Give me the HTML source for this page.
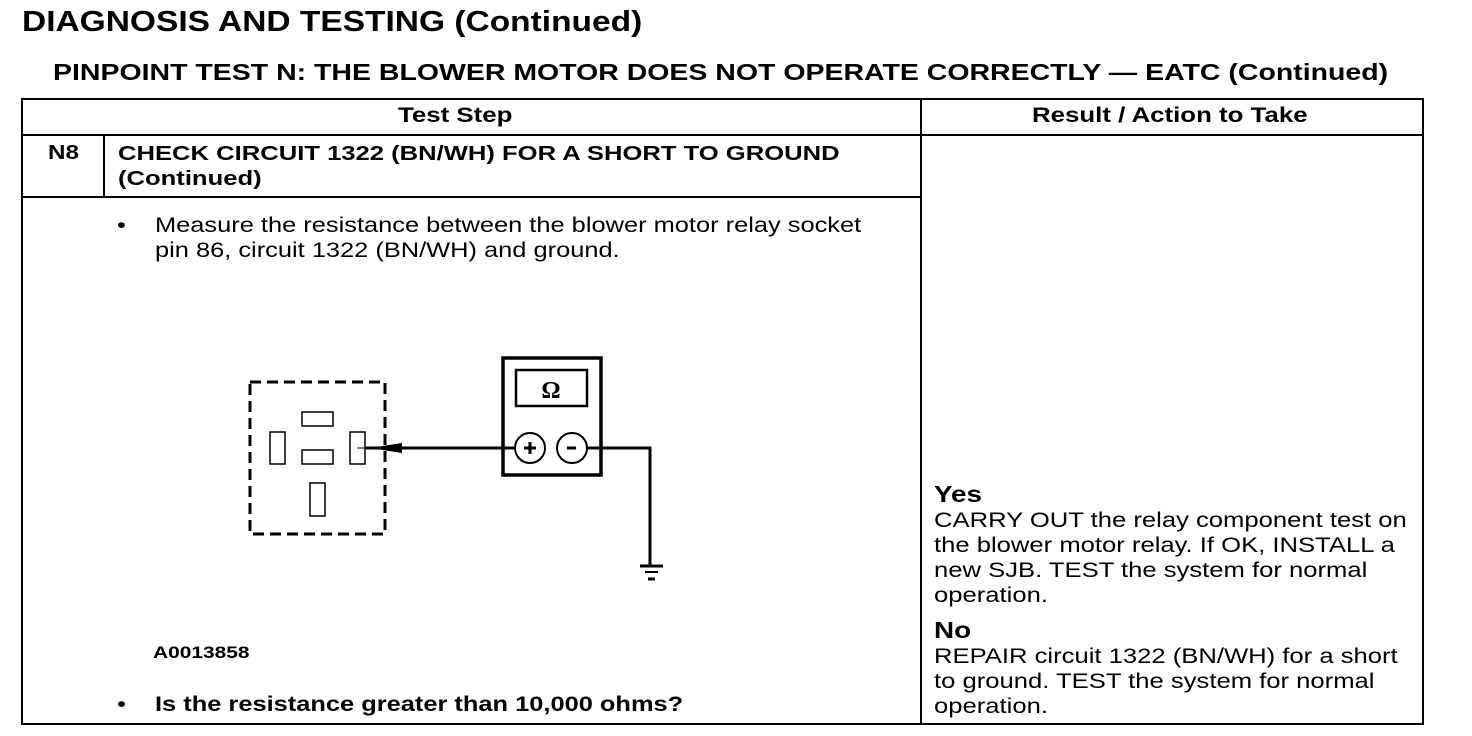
<!DOCTYPE html>
<html><head><style>
body{margin:0;width:1472px;height:736px;background:#fff;position:relative;font-family:"Liberation Sans",Arial,sans-serif;color:#000;overflow:hidden}
.t{position:absolute;white-space:nowrap;transform-origin:0 0;transform:scaleX(1.21)}
.b{font-weight:bold}
.l{position:absolute;background:#000}
</style></head><body>
<div class="t b" style="left:22px;top:6px;font-size:29px;transform:scaleX(1.155)">DIAGNOSIS AND TESTING (Continued)</div>
<div class="t b" style="left:53px;top:59px;font-size:23px;transform:scaleX(1.238)">PINPOINT TEST N: THE BLOWER MOTOR DOES NOT OPERATE CORRECTLY — EATC (Continued)</div>
<div style="position:absolute;left:21px;top:98px;width:1399px;height:623px;border:2px solid #000"></div>
<div class="l" style="left:21px;top:134px;width:1401px;height:2px"></div>
<div class="l" style="left:920px;top:98px;width:2px;height:625px"></div>
<div class="l" style="left:103px;top:134px;width:2px;height:63px"></div>
<div class="l" style="left:21px;top:196px;width:900px;height:2px"></div>
<div class="t b" style="left:398px;top:104px;font-size:21px;transform:scaleX(1.23)">Test Step</div>
<div class="t b" style="left:1032px;top:104px;font-size:21px;transform:scaleX(1.23)">Result / Action to Take</div>
<div class="t b" style="left:48px;top:142px;font-size:20px">N8</div>
<div class="t b" style="left:118px;top:142px;font-size:20px;line-height:25px;transform:scaleX(1.28)">CHECK CIRCUIT 1322 (BN/WH) FOR A SHORT TO GROUND<br>(Continued)</div>
<div class="t" style="left:117px;top:213px;font-size:21px;line-height:25px">•</div>
<div class="t" style="left:155px;top:213px;font-size:21px;line-height:25px">Measure the resistance between the blower motor relay socket<br>pin 86, circuit 1322 (BN/WH) and ground.</div>
<div class="t b" style="left:153px;top:643px;font-size:17px;transform:scaleX(1.23)">A0013858</div>
<div class="t" style="left:117px;top:693px;font-size:21px">•</div>
<div class="t b" style="left:155px;top:693px;font-size:21px">Is the resistance greater than 10,000 ohms?</div>
<div class="t b" style="left:934px;top:481px;font-size:23px">Yes</div>
<div class="t" style="left:934px;top:508px;font-size:21px;line-height:25px;transform:scaleX(1.22)">CARRY OUT the relay component test on<br>the blower motor relay. If OK, INSTALL a<br>new SJB. TEST the system for normal<br>operation.</div>
<div class="t b" style="left:934px;top:617px;font-size:23px">No</div>
<div class="t" style="left:934px;top:644px;font-size:21px;line-height:25px;transform:scaleX(1.22)">REPAIR circuit 1322 (BN/WH) for a short<br>to ground. TEST the system for normal<br>operation.</div>
<svg style="position:absolute;left:0;top:0" width="1472" height="736">
<rect x="250" y="382" width="135" height="152" fill="none" stroke="#000" stroke-width="3" stroke-dasharray="11,6"/>
<g fill="none" stroke="#000" stroke-width="1.5">
<rect x="302" y="412" width="31" height="14"/>
<rect x="270" y="432" width="15" height="32"/>
<rect x="302" y="450" width="31" height="14"/>
<rect x="350" y="432" width="15" height="32"/>
<rect x="310" y="483" width="15" height="33"/>
</g>
<rect x="503" y="358" width="98" height="117" fill="none" stroke="#000" stroke-width="3.5"/>
<rect x="516" y="370" width="71" height="36" fill="none" stroke="#000" stroke-width="2.5"/>
<text x="551" y="398" font-size="24" font-weight="bold" text-anchor="middle" font-family="Liberation Serif,serif">Ω</text>
<line x1="365" y1="448" x2="515" y2="448" stroke="#000" stroke-width="3"/>
<line x1="357" y1="448" x2="370" y2="448" stroke="#000" stroke-width="1"/>
<polygon points="370,448 402,443 402,453" fill="#000"/>
<circle cx="530" cy="448" r="15" fill="#fff" stroke="#000" stroke-width="2"/>
<circle cx="572" cy="448" r="15" fill="#fff" stroke="#000" stroke-width="2"/>
<line x1="524" y1="448" x2="536" y2="448" stroke="#000" stroke-width="3"/>
<line x1="530" y1="442" x2="530" y2="454" stroke="#000" stroke-width="3"/>
<line x1="567" y1="448" x2="576" y2="448" stroke="#000" stroke-width="3"/>
<polyline points="587,448 650,448 650,567" fill="none" stroke="#000" stroke-width="3"/>
<line x1="640" y1="566" x2="663" y2="566" stroke="#000" stroke-width="3"/>
<line x1="645" y1="572" x2="658" y2="572" stroke="#000" stroke-width="2"/>
<line x1="648" y1="579" x2="655" y2="579" stroke="#000" stroke-width="3"/>
</svg>
</body></html>
